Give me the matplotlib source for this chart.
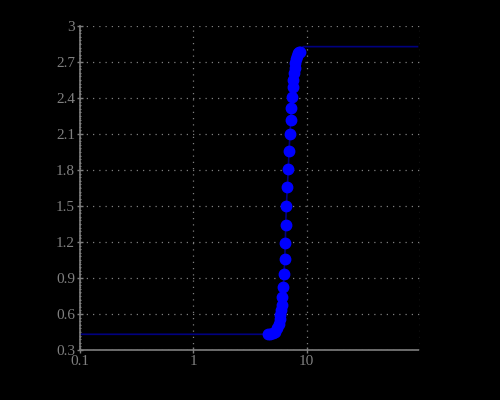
import numpy as np
import matplotlib
matplotlib.use('Agg')
import matplotlib.pyplot as plt
from matplotlib.ticker import MultipleLocator, FixedLocator, NullLocator

plt.rcParams['font.family'] = 'Liberation Serif'

x_pts = [4.53, 4.75, 5.01, 5.29, 5.51, 5.66, 5.78, 5.86, 5.94, 6.02,
         6.10, 6.23, 6.31, 6.40, 6.48, 6.53, 6.62, 6.75, 6.89, 6.98,
         7.13, 7.23, 7.33, 7.43, 7.52, 7.62, 7.73, 7.83, 7.94, 8.05,
         8.16, 8.33, 8.55, 8.73]
y_pts = [0.431, 0.433, 0.439, 0.453, 0.481, 0.517, 0.556, 0.592, 0.633, 0.675,
         0.744, 0.828, 0.931, 1.056, 1.189, 1.339, 1.497, 1.656, 1.811, 1.958,
         2.097, 2.217, 2.319, 2.411, 2.489, 2.550, 2.606, 2.647, 2.689, 2.722,
         2.750, 2.772, 2.783, 2.786]

# flat plateaus either side of the transition
low_x = [0.1, 4.53]
low_y = [0.431, 0.431]
high_x = [8.73, 9.3, 95.0]
high_y = [2.786, 2.828, 2.828]

y_ticks = [0.3, 0.6, 0.9, 1.2, 1.5, 1.8, 2.1, 2.4, 2.7, 3.0]
y_labels = ['0.3', '0.6', '0.9', '1.2', '1.5', '1.8', '2.1', '2.4', '2.7', '3']
x_ticks = [0.1, 1, 10]
x_labels = ['0.1', '1', '10']

grey = '#7f7f7f'
fig = plt.figure(figsize=(5, 4), dpi=100, facecolor='black')
ax = fig.add_axes([0.16, 0.125, 0.68, 0.81], facecolor='black')

line_x = low_x + x_pts + high_x[1:]
line_y = low_y + y_pts + high_y[1:]
ax.plot(line_x, line_y, color='#000080', lw=1.2, zorder=2)
ax.plot(x_pts, y_pts, 'o', color='#0000ff', ms=7.5, mec='#0000ff', zorder=3)

ax.set_xscale('log')
ax.set_xlim(0.1, 100)
ax.set_ylim(0.3, 3.0)
ax.xaxis.set_major_locator(FixedLocator(x_ticks))
ax.set_xticklabels(x_labels)
ax.xaxis.set_minor_locator(NullLocator())
ax.yaxis.set_major_locator(FixedLocator(y_ticks))
ax.set_yticklabels(y_labels)
ax.yaxis.set_minor_locator(MultipleLocator(0.03))

dot = dict(color=grey, lw=0.9, linestyle=(0, (1, 4)))
ax.grid(True, which='major', **dot)
ax.axvline(100, **dot)

for s in ['top', 'right']:
    ax.spines[s].set_visible(False)
for s in ['left', 'bottom']:
    ax.spines[s].set_color(grey)
    ax.spines[s].set_linewidth(1.2)
    ax.spines[s].set_linestyle((0, (3, 1)))

ax.tick_params(which='major', colors=grey, labelcolor=grey, length=5,
               direction='inout', width=1, labelsize=11, pad=1)
ax.tick_params(which='minor', colors=grey, length=2, direction='inout', width=0.8)

fig.savefig('out.png', dpi=100, facecolor='black')
